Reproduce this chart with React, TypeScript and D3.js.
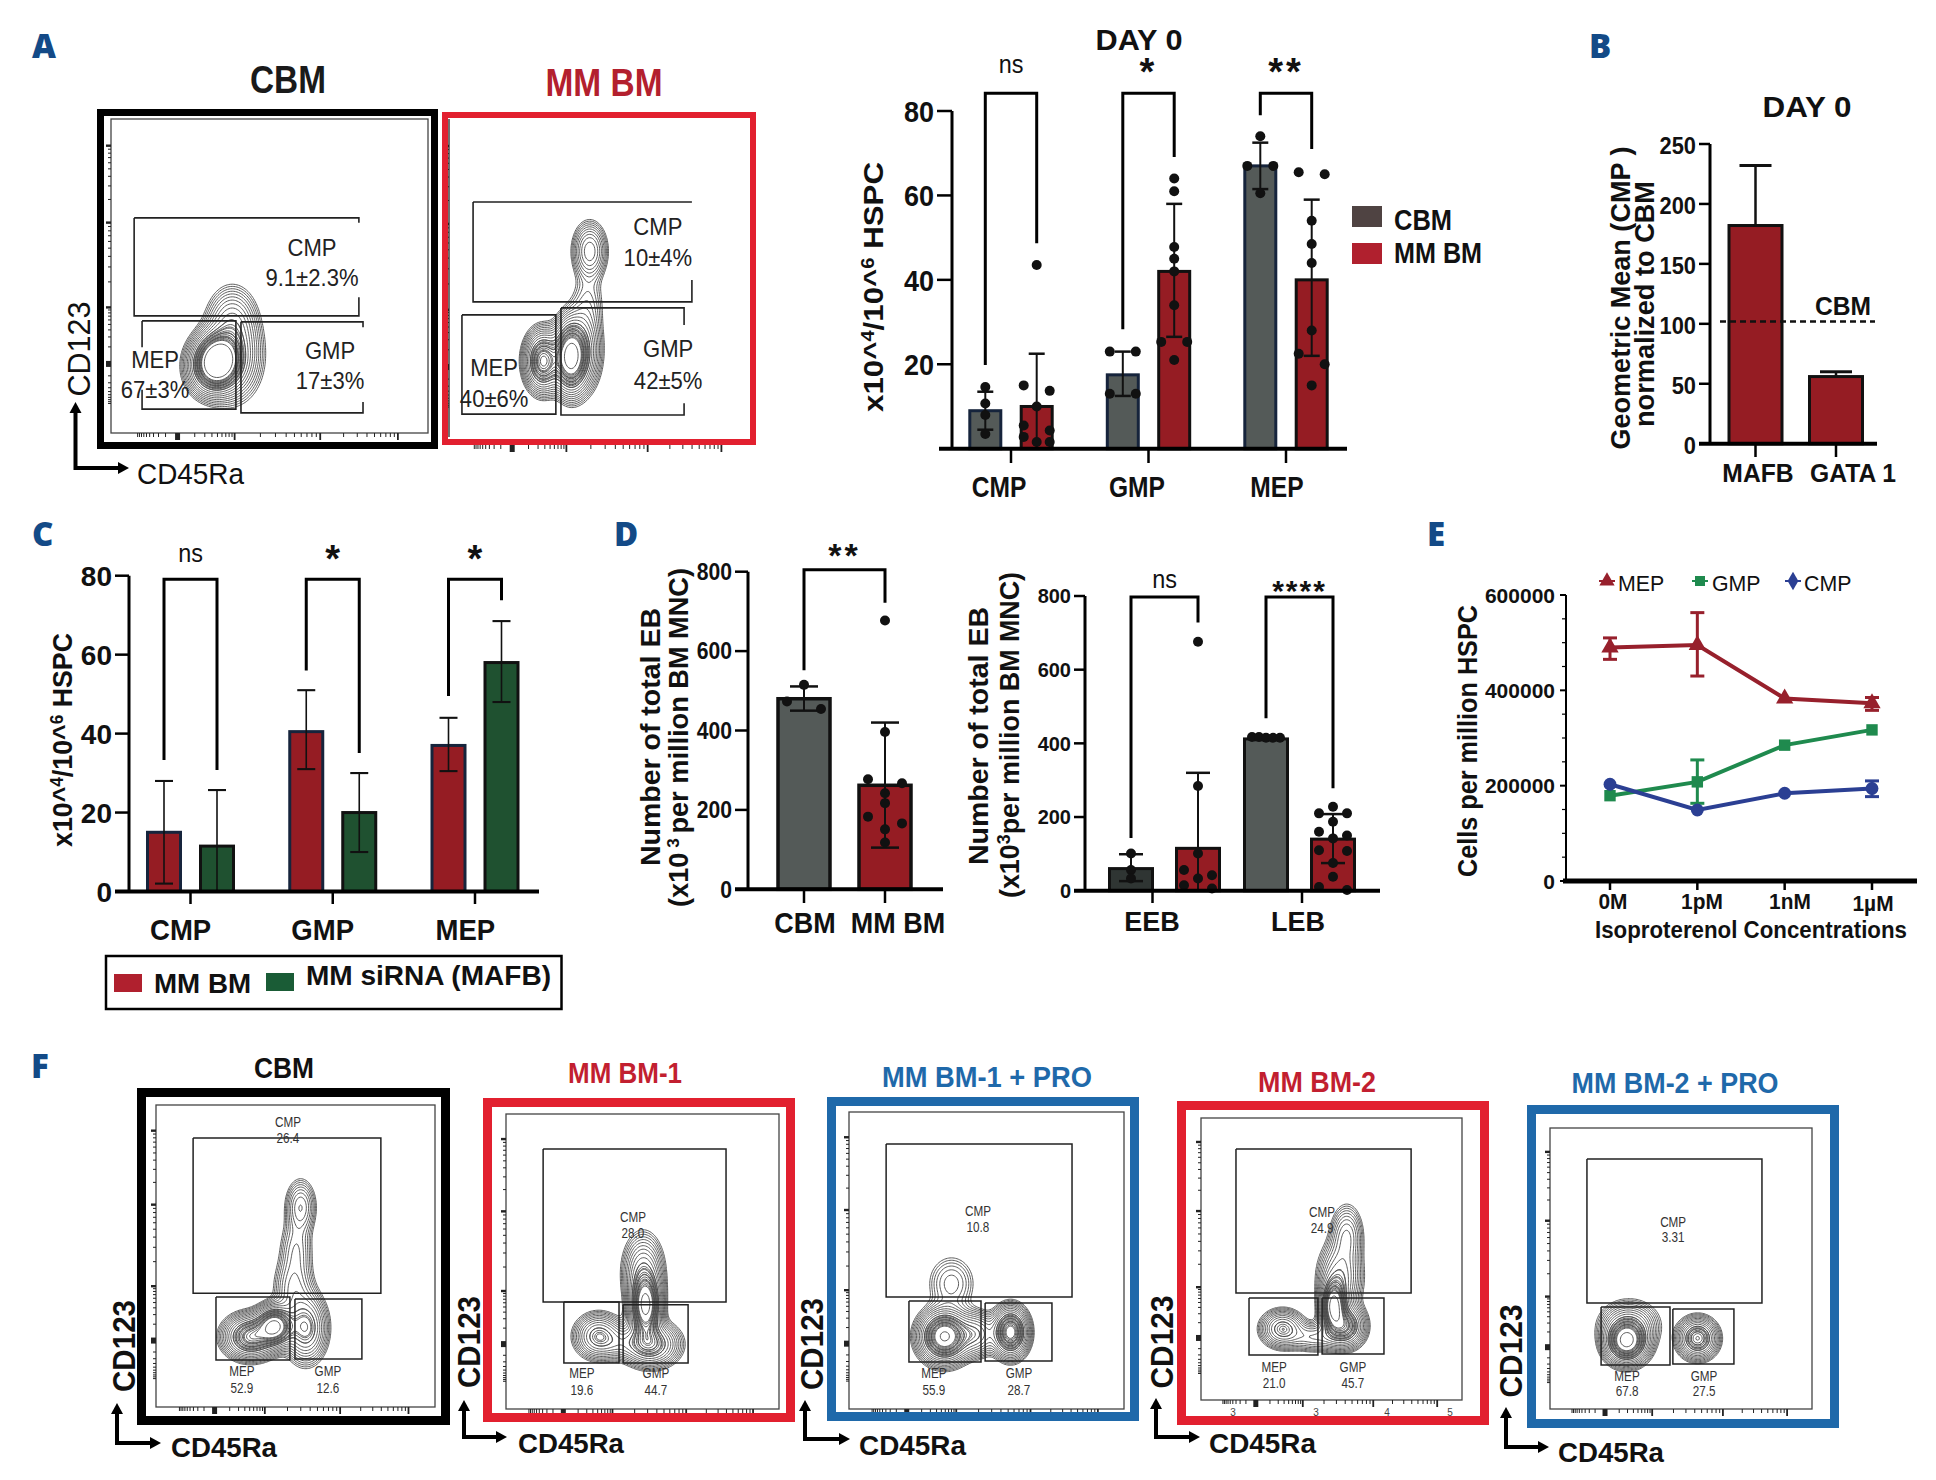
import * as d3 from 'd3';

const FONT = '"Liberation Sans", Arial, sans-serif';
const GRAY = '#545a58';
const DARK = '#2f3533';
const RED = '#951c23';
const GREEN = '#1f5130';
const EDGE = '#16243c';
const BOX_RED = '#e2202f';
const BOX_BLUE = '#1f69aa';
const TITLE_RED = '#c21f30';

// panel A bars
const popGroups = ['CMP', 'GMP', 'MEP'];
const aCbmMeans = [9, 17.5, 67];
const aCbmLow = [4.5, 12.5, 61.5];
const aCbmHigh = [13.5, 23, 72.5];
const aCbmPoints = [[14.6, 10.7, 8, 3.5], [23, 23, 13, 13], [74, 67, 67, 60.5]];
const aMmMeans = [10, 42, 40];
const aMmLow = [null, 26.5, 22];
const aMmHigh = [22.5, 58, 59];
const aMmPoints = [
  [43.5, 15, 13.7, 10, 5.5, 4.3, 2.8, 1.6, 1.6],
  [64, 61, 47.8, 45, 42, 34, 25.3, 25.3, 21],
  [65.5, 65, 54, 48.5, 44, 28, 22.5, 20, 15],
];
const aBrackets = [
  { label: 'ns', top: 84.2, legA: 19.8, legB: 48.7 },
  { label: '*', top: 84.2, legA: 28.3, legB: 69.1 },
  { label: '**', top: 84.2, legA: 79, legB: 71 },
];

// panel B
const bGroups = ['MAFB', 'GATA 1'];
const bMeans = [182, 56];
const bHigh = [232, 60];

// panel C
const cMmMeans = [15, 40.5, 37];
const cMmLow = [2, 31, 30.5];
const cMmHigh = [28, 51, 44];
const cSiMeans = [11.5, 20, 58];
const cSiLow = [null, 10, 48];
const cSiHigh = [25.7, 30, 68.5];
const cBrackets = [
  { label: 'ns', top: 79.1, legA: 33.3, legB: 30.8 },
  { label: '*', top: 79.1, legA: 56, legB: 35.1 },
  { label: '*', top: 79.1, legA: 49.5, legB: 73.8 },
];

// panel D, totals
const d1Groups = ['CBM', 'MM BM'];
const d1Means = [480, 262];
const d1Low = [450, 105];
const d1High = [511, 420];
const d1Points = [[515, 473, 454], [677, 396, 277, 267, 242, 217, 183, 166, 151, 118]];
const d1Brackets = [{ label: '**', top: 805, legA: 552, legB: 722 }];

// panel D, EEB and LEB
const d2Groups = ['EEB', 'LEB'];
const d2CbmMeans = [60, 412];
const d2CbmLow = [26, 409];
const d2CbmHigh = [99, 416];
const d2CbmPoints = [[101, 56, 33], [417, 415, 415, 415, 417]];
const d2MmMeans = [115, 140];
const d2MmLow = [null, 75];
const d2MmHigh = [320, 208];
const d2MmPoints = [
  [676, 284, 101, 56, 42, 33, 15, 6],
  [228, 210, 210, 187, 160, 150, 142, 110, 108, 75, 38, 10, 2],
];
const d2Brackets = [
  { label: 'ns', top: 797, legA: 143, legB: 728 },
  { label: '****', top: 797, legA: 468, legB: 278 },
];

// panel E
const isoDoses = ['0M', '1pM', '1nM', '1µM'];
const mepCells = [490000, 495000, 383000, 373000];
const mepLow = [465000, 430000, null, 358000];
const mepHigh = [510000, 563000, null, 385000];
const gmpCells = [179000, 208000, 285000, 317000];
const gmpLow = [null, 163000, null, null];
const gmpHigh = [null, 254000, null, null];
const cmpCells = [203000, 149000, 184000, 194000];
const cmpLow = [null, null, null, 177000];
const cmpHigh = [null, null, null, 210000];

// flow plots, everything on a 0-100 channel scale
const a1Gates = [
  { name: 'CMP', stat: '9.1±2.3%', box: [7.3, 78.2, 37.3, 68.5], lx: 63.4, ly: [56.4, 46.8], gapSide: 'right', gap: [0.05, 0.81] },
  { name: 'MEP', stat: '67±3%', box: [9.8, 39.4, 7.6, 35.7], lx: 13.9, ly: [20.7, 11.1], gapSide: 'left', gap: [0.3, 0.78] },
  { name: 'GMP', stat: '17±3%', box: [41, 79.5, 6.4, 35.4], lx: 69.1, ly: [23.6, 14], gapSide: 'right', gap: [0.06, 0.88] },
];
const a1Blobs = [[34, 23, 3.6, 4.5, 1], [31, 21, 4, 5, 0.55], [38, 24, 5, 7.5, 0.3], [38, 35, 4.2, 6.2, 0.22]];
const a2Gates = [
  { name: 'CMP', stat: '10±4%', box: [8, 80.7, 42.5, 73.9], lx: 69.4, ly: [63.5, 53.8], gapSide: 'right', gap: [0, 0.78] },
  { name: 'MEP', stat: '40±6%', box: [4.3, 35.5, 7.2, 38.4], lx: 15, ly: [19.2, 9.4] },
  { name: 'GMP', stat: '42±5%', box: [37.2, 78.1, 6.9, 40.6], lx: 72.8, ly: [25.2, 15.1], gapSide: 'right', gap: [0.16, 0.89] },
];
const a2Blobs = [[46.5, 58.2, 3, 4.8, 0.3], [46, 42, 3.2, 6, 0.08], [40, 25, 3, 6, 1], [31, 23.6, 3.2, 5, 0.75], [44, 27, 3.5, 7, 0.3]];
const f1Gates = [
  { name: 'CMP', stat: '26.4', box: [13.3, 80.6, 37.7, 89.1], lx: 47.3, ly: [92.7, 87.4] },
  { name: 'MEP', stat: '52.9', box: [21.5, 48, 15.6, 36.4], lx: 30.8, ly: [10.3, 4.6] },
  { name: 'GMP', stat: '12.6', box: [49.8, 73.8, 15.9, 35.8], lx: 61.6, ly: [10.3, 4.6] },
];
const f1Blobs = [[51.6, 66, 3, 5, 0.2], [50, 52, 3.4, 6, 0.12], [49, 39, 4, 6, 0.16], [42.3, 26.5, 3.6, 3.5, 1], [33.7, 23, 5, 3.8, 0.7], [53.4, 26, 4, 6, 0.45]];
const f2Gates = [
  { name: 'CMP', stat: '28.0', box: [13.6, 80.6, 36.3, 88.1], lx: 46.5, ly: [63.4, 58] },
  { name: 'MEP', stat: '19.6', box: [21.2, 41.4, 15.6, 36.3], lx: 27.8, ly: [10.5, 4.7] },
  { name: 'GMP', stat: '44.7', box: [42.9, 66.7, 15.6, 35.3], lx: 54.9, ly: [10.5, 4.7] },
];
const f2Blobs = [[50.9, 34.6, 3, 6, 1], [50, 46, 4, 7, 0.3], [33.7, 24.4, 4.6, 4, 0.4], [52.7, 21.7, 5.5, 4, 0.5], [42, 22, 5, 3, 0.12]];
const f3Gates = [
  { name: 'CMP', stat: '10.8', box: [13.5, 81.1, 37.7, 89.2], lx: 46.9, ly: [65, 59.6] },
  { name: 'MEP', stat: '55.9', box: [21.8, 48, 15.8, 36.4], lx: 30.9, ly: [10.4, 4.7] },
  { name: 'GMP', stat: '28.7', box: [49.5, 73.8, 16.2, 35.7], lx: 61.8, ly: [10.4, 4.7] },
];
const f3Blobs = [[34.5, 24.2, 4.8, 4.6, 1], [37, 42, 5, 5.5, 0.12], [58.5, 25.6, 3.4, 4.4, 0.85], [46, 25, 4, 4, 0.3]];
const f4Gates = [
  { name: 'CMP', stat: '24.9', box: [13.4, 80.5, 37.9, 89], lx: 46.4, ly: [64.9, 59.2] },
  { name: 'MEP', stat: '21.0', box: [18.4, 44.8, 16, 36.2], lx: 28, ly: [9.9, 4.3] },
  { name: 'GMP', stat: '45.7', box: [46.4, 70.1, 16.3, 36.2], lx: 58.2, ly: [9.9, 4.3] },
];
const f4Blobs = [[55.6, 58, 3.4, 6, 0.2], [53, 43, 4.5, 7, 0.3], [50.6, 33, 2.6, 5, 1], [55, 26, 4, 4, 0.6], [31, 25, 4.4, 3.5, 0.4], [43.7, 22, 6, 2.8, 0.2]];
const f5Gates = [
  { name: 'CMP', stat: '3.31', box: [14.1, 80.9, 37.7, 89], lx: 47, ly: [64.8, 59.4] },
  { name: 'MEP', stat: '67.8', box: [19.5, 45.8, 15.7, 36.3], lx: 29.4, ly: [10, 4.6] },
  { name: 'GMP', stat: '27.5', box: [46.9, 70.2, 16, 35.6], lx: 58.8, ly: [10, 4.6] },
];
const f5Blobs = [[29, 23.8, 4.4, 4.2, 1], [30, 30, 6, 4.5, 0.25], [56.1, 24.9, 4, 3.8, 0.6]];

// outer shells plus a tight band that gives the dark core of a contour plot
const contourLevels = [
  ...d3.range(16).map(i => 0.035 * Math.pow(0.95 / 0.035, i / 15)),
  ...d3.range(0.32, 0.76, 0.045),
].sort(d3.ascending);
const GRID = 2;
const decadeTicks = d3.scaleLog().domain([1, 1000]).ticks();
const biex = d3.scaleLinear().domain([0, 1, 2, 3]).range([21, 39, 66, 90.5]);

function Txt({ x, y, text, size = 24, weight = 'normal', fill = '#111', anchor = 'middle', len, rot = 0, sx = 1, family = FONT, children, spacing }: any) {
  return (
    <text
      transform={`translate(${x},${y}) rotate(${rot}) scale(${sx},1)`}
      fontFamily={family}
      fontSize={size}
      fontWeight={weight}
      fill={fill}
      textAnchor={anchor}
      textLength={len}
      lengthAdjust={len ? 'spacingAndGlyphs' : undefined}
      letterSpacing={spacing}
    >
      {text}
      {children}
    </text>
  );
}

function spreadPoints(values: number[], y: any, gapPx: number, spread: number) {
  const sorted = [...values].sort(d3.descending);
  const out: { v: number; dx: number }[] = [];
  let cluster: number[] = [];
  const flush = () => {
    const n = cluster.length;
    cluster.forEach((v, i) => out.push({ v, dx: n === 1 ? 0 : -spread + (2 * spread * i) / (n - 1) }));
    cluster = [];
  };
  sorted.forEach(v => {
    if (cluster.length && y(v) - y(cluster[0]) > gapPx) flush();
    cluster.push(v);
  });
  flush();
  return out;
}

function BarPanel(p: any) {
  const y = d3.scaleLinear().domain(p.yDomain).range(p.yRange);
  const x0 = d3.scalePoint<string>().domain(p.groups).range(p.xRange);
  const x1 = d3.scalePoint<string>().domain(p.series.map((s: any) => s.name)).range([-p.offset, p.offset]);
  const tickX = d3.scalePoint<string>().domain(p.groups).range(p.tickRange || p.xRange);
  const base = y(0);
  const two = p.series.length > 1;
  return (
    <g>
      {p.series.map((s: any) =>
        p.groups.map((g: string, i: number) => {
          const cx = (x0(g) as number) + (x1(s.name) as number);
          const fill = Array.isArray(s.fill) ? s.fill[i] : s.fill;
          const pts = s.points ? spreadPoints(s.points[i], y, p.dotGap, p.dotSpread) : [];
          const errEnd = p.upperOnly ? y(s.values[i]) : s.low[i] === null ? base : y(s.low[i]);
          return (
            <g key={s.name + g}>
              <rect x={cx - p.barW / 2} y={y(s.values[i])} width={p.barW} height={base - y(s.values[i])} fill={fill} stroke={s.edge} strokeWidth={p.barEdge} />
              <line x1={cx} x2={cx} y1={y(s.high[i])} y2={errEnd} stroke="#111" strokeWidth={p.errW} />
              <line x1={cx - p.capW / 2} x2={cx + p.capW / 2} y1={y(s.high[i])} y2={y(s.high[i])} stroke="#111" strokeWidth={p.errW + 0.5} />
              {s.low[i] !== null && <line x1={cx - p.capW / 2} x2={cx + p.capW / 2} y1={y(s.low[i])} y2={y(s.low[i])} stroke="#111" strokeWidth={p.errW + 0.5} />}
              {pts.map((d, k) => (
                <circle key={k} cx={cx + d.dx} cy={y(d.v)} r={p.dotR} fill="#111" />
              ))}
            </g>
          );
        })
      )}
      {p.refLine && (
        <line x1={p.refLine.x0} x2={p.refLine.x1} y1={y(p.refLine.value)} y2={y(p.refLine.value)} stroke="#111" strokeWidth={2.5} strokeDasharray="6 4" />
      )}
      {/* axes */}
      <line x1={p.axisX} x2={p.axisX} y1={y.range()[1]} y2={base} stroke="#000" strokeWidth={3} />
      <line x1={p.xAxis[0]} x2={p.xAxis[1]} y1={base} y2={base} stroke="#000" strokeWidth={4} />
      {p.yTicks.map((t: number) => (
        <g key={t}>
          <line x1={p.tickStart} x2={p.axisX} y1={y(t)} y2={y(t)} stroke="#000" strokeWidth={2.5} />
          <Txt x={p.tickStart - 3} y={y(t) + p.tickFont * 0.36 + (p.tickDy || 0)} text={t} size={p.tickFont} weight="bold" anchor="end" sx={p.tickSx} />
        </g>
      ))}
      {p.groups.map((g: string, i: number) => (
        <g key={g}>
          <line x1={tickX(g)} x2={tickX(g)} y1={base} y2={p.xTickEnd} stroke="#000" strokeWidth={2.5} />
          <Txt x={p.labelX[i]} y={p.labelY} text={g} size={p.labelFont} weight="bold" sx={p.labelSx} />
        </g>
      ))}
      {(p.brackets || []).map((b: any, i: number) => {
        const g0 = two ? p.groups[i] : p.groups[0];
        const g1 = two ? p.groups[i] : p.groups[1];
        const xa = (x0(g0) as number) + (two ? (x1(p.series[0].name) as number) : 0);
        const xb = (x0(g1) as number) + (two ? (x1(p.series[1].name) as number) : 0);
        const path = d3.path();
        path.moveTo(xa, y(b.legA));
        path.lineTo(xa, y(b.top));
        path.lineTo(xb, y(b.top));
        path.lineTo(xb, y(b.legB));
        const ns = b.label === 'ns';
        return (
          <g key={i}>
            <path d={path.toString()} fill="none" stroke="#000" strokeWidth={3} />
            <Txt
              x={(xa + xb) / 2}
              y={ns ? y(b.top) - p.nsDy : y(b.top) - p.starDy + p.starFont * 0.58}
              text={b.label}
              size={ns ? p.nsFont : p.starFont}
              weight={ns ? 'normal' : 'bold'}
              sx={ns ? 0.9 : 1}
              spacing={ns ? undefined : p.starSpacing}
            />
          </g>
        );
      })}
    </g>
  );
}

function gatePath(g: any, xs: any, ys: any) {
  const [a, b, c, d] = g.box;
  const left = xs(a);
  const right = xs(b);
  const top = ys(d);
  const bottom = ys(c);
  const h = bottom - top;
  const path = d3.path();
  path.moveTo(left, top);
  path.lineTo(right, top);
  if (g.gapSide === 'right') {
    if (g.gap[0] > 0) path.lineTo(right, top + g.gap[0] * h);
    path.moveTo(right, top + g.gap[1] * h);
  }
  path.lineTo(right, bottom);
  path.lineTo(left, bottom);
  if (g.gapSide === 'left') {
    path.lineTo(left, top + g.gap[1] * h);
    path.moveTo(left, top + g.gap[0] * h);
    path.lineTo(left, top);
  } else {
    path.lineTo(left, top);
  }
  return path.toString();
}

function FlowPlot(p: any) {
  const [fx0, fx1, fy0, fy1] = p.frame;
  const xs = d3.scaleLinear().domain([0, 100]).range([fx0, fx1]);
  const ys = d3.scaleLinear().domain([0, 100]).range([fy1, fy0]);

  const n = 100 * GRID;
  const field = new Float64Array(n * n);
  for (let j = 0; j < n; j++) {
    for (let i = 0; i < n; i++) {
      let sum = 0;
      for (const [cx, cy, sx, sy, amp] of p.blobs) {
        const dx = (i / GRID - cx) / sx;
        const dy = (j / GRID - cy) / sy;
        sum += amp * Math.exp(-0.5 * (dx * dx + dy * dy));
      }
      field[j * n + i] = sum;
    }
  }
  const contours = d3.contours().size([n, n]).thresholds(contourLevels)(field as any);
  const geo = d3.geoPath(
    d3.geoTransform({
      point(px: number, py: number) {
        (this as any).stream.point(xs(px / GRID), ys(py / GRID));
      },
    })
  );

  const tickUnits = decadeTicks.map(t => ({ u: biex(Math.log10(t)), major: Number.isInteger(Math.log10(t)) }));
  const mirror = decadeTicks.filter(t => t > 1 && t <= 10).map(t => ({ u: 21 - (biex(Math.log10(t)) - 21) * 0.7, major: false }));
  const ticks = [...tickUnits, ...mirror];
  const tickDrop = p.xTickDrop || 0;
  return (
    <g>
      {p.frameLeftOnly ? (
        <line x1={fx0} x2={fx0} y1={fy0} y2={fy1} stroke="#333" strokeWidth={1.4} />
      ) : (
        <rect x={fx0} y={fy0} width={fx1 - fx0} height={fy1 - fy0} fill="none" stroke="#444" strokeWidth={1.3} />
      )}
      {contours.map((c, i) => (
        <path key={i} d={geo(c as any) || ''} fill="none" stroke="#4a4a4a" strokeWidth={0.9} />
      ))}
      {ticks.map((t, i) => (
        <g key={i} stroke="#222">
          <line x1={xs(t.u)} x2={xs(t.u)} y1={fy1 + tickDrop} y2={fy1 + tickDrop + (t.major ? 7 : 4)} strokeWidth={t.u === 21 ? 5 : t.major ? 1.8 : 1} />
          <line x1={fx0 - (t.major ? 5 : 3)} x2={fx0} y1={ys(t.u + 1)} y2={ys(t.u + 1)} strokeWidth={t.u === 21 ? 6 : t.major ? 2.4 : 1} />
        </g>
      ))}
      {p.gates.map((g: any) => (
        <g key={g.name}>
          <path d={gatePath(g, xs, ys)} fill="none" stroke="#222" strokeWidth={p.gateW} />
          <Txt x={xs(g.lx)} y={ys(g.ly[0])} text={g.name} size={p.statFont} sx={p.statSx} fill={p.statFill} />
          <Txt x={xs(g.lx)} y={ys(g.ly[1])} text={g.stat} size={p.statFont} sx={p.statSx} fill={p.statFill} />
        </g>
      ))}
      {p.box && <rect x={p.box[0]} y={p.box[1]} width={p.box[2] - p.box[0]} height={p.box[3] - p.box[1]} fill="none" stroke={p.boxColor} strokeWidth={p.boxW} />}
    </g>
  );
}

function Arrows({ x, top, corner, right }: any) {
  const sw = 4;
  return (
    <g>
      <path d={`M${x},${top + 10} V${corner} H${right - 10}`} fill="none" stroke="#000" strokeWidth={sw} />
      <path d={`M${x - 6},${top + 11} L${x},${top} L${x + 6},${top + 11} Z`} fill="#000" />
      <path d={`M${right - 11},${corner - 6} L${right},${corner} L${right - 11},${corner + 6} Z`} fill="#000" />
    </g>
  );
}

function FlowLabels({ cdX, cdY, cdLen, cdSize, arrow, raX, raY, raLen, raSize, weight }: any) {
  return (
    <g>
      <Txt x={cdX} y={cdY} text="CD123" size={cdSize} weight={weight} rot={-90} len={cdLen} />
      <Arrows {...arrow} />
      <Txt x={raX} y={raY} text="CD45Ra" size={raSize} weight={weight} anchor="start" len={raLen} />
    </g>
  );
}

function IsoPanel() {
  const x = d3.scalePoint<string>().domain(isoDoses).range([1610, 1872]);
  const y = d3.scaleLinear().domain([0, 600000]).range([881, 595]);
  const line = d3.line<number>().x((_, i) => x(isoDoses[i]) as number).y(d => y(d));
  const groups = [
    { name: 'MEP', cells: mepCells, low: mepLow, high: mepHigh, color: '#97202c', symbol: d3.symbolTriangle, legend: d3.symbolTriangle, legendX: 1607, textX: 1618 },
    { name: 'GMP', cells: gmpCells, low: gmpLow, high: gmpHigh, color: '#1f8a4e', symbol: d3.symbolSquare, legend: d3.symbolSquare, legendX: 1700, textX: 1712 },
    { name: 'CMP', cells: cmpCells, low: cmpLow, high: cmpHigh, color: '#2b3f93', symbol: d3.symbolCircle, legend: d3.symbolDiamond, legendX: 1793, textX: 1804 },
  ];
  const labelX = [1613, 1702, 1790, 1873];
  return (
    <g>
      <line x1={1566} x2={1566} y1={595} y2={881} stroke="#000" strokeWidth={2} />
      <line x1={1563} x2={1917} y1={881} y2={881} stroke="#000" strokeWidth={5} />
      {y.ticks(12).map(t => (
        <line key={t} x1={t % 200000 === 0 ? 1560 : 1562} x2={1566} y1={y(t)} y2={y(t)} stroke="#000" strokeWidth={t % 200000 === 0 ? 2 : 1.2} />
      ))}
      {[0, 200000, 400000, 600000].map(t => (
        <Txt key={t} x={1555} y={y(t) + 7.5} text={t} size={21} weight="bold" anchor="end" />
      ))}
      {isoDoses.map((d, i) => (
        <g key={d}>
          <line x1={x(d)} x2={x(d)} y1={881} y2={890} stroke="#000" strokeWidth={2.5} />
          <Txt x={labelX[i]} y={i === 3 ? 911 : 909} text={d} size={22} weight="bold" sx={0.95} />
        </g>
      ))}
      {groups.map(g => (
        <g key={g.name}>
          <path d={line(g.cells) || ''} fill="none" stroke={g.color} strokeWidth={4} />
          {g.cells.map((c, i) => (
            <g key={i} stroke={g.color} strokeWidth={3}>
              {g.high[i] !== null && (
                <g>
                  <line x1={x(isoDoses[i])} x2={x(isoDoses[i])} y1={y(g.high[i] as number)} y2={y(g.low[i] as number)} />
                  <line x1={(x(isoDoses[i]) as number) - 7} x2={(x(isoDoses[i]) as number) + 7} y1={y(g.high[i] as number)} y2={y(g.high[i] as number)} />
                  <line x1={(x(isoDoses[i]) as number) - 7} x2={(x(isoDoses[i]) as number) + 7} y1={y(g.low[i] as number)} y2={y(g.low[i] as number)} />
                </g>
              )}
              <path transform={`translate(${x(isoDoses[i])},${y(c)})`} d={d3.symbol().type(g.symbol).size(130)() || ''} fill={g.color} stroke="none" />
            </g>
          ))}
          <path transform={`translate(${g.legendX},581)`} d={d3.symbol().type(g.legend).size(100)() || ''} fill={g.color} />
          <line x1={g.legendX - 8} x2={g.legendX + 8} y1={581} y2={581} stroke={g.color} strokeWidth={2} />
          <Txt x={g.textX} y={591} text={g.name} size={22} anchor="start" sx={0.97} />
        </g>
      ))}
      <Txt x={1477} y={741} text="Cells per million HSPC" size={27} weight="bold" rot={-90} len={272} />
      <Txt x={1751} y={938} text="Isoproterenol Concentrations" size={23} weight="bold" len={312} />
    </g>
  );
}

export default function App() {
  const aSeries = [
    { name: 'CBM', values: aCbmMeans, low: aCbmLow, high: aCbmHigh, points: aCbmPoints, fill: GRAY, edge: EDGE },
    { name: 'MM BM', values: aMmMeans, low: aMmLow, high: aMmHigh, points: aMmPoints, fill: RED, edge: '#111' },
  ];
  const cSeries = [
    { name: 'MM BM', values: cMmMeans, low: cMmLow, high: cMmHigh, fill: RED, edge: EDGE },
    { name: 'MM siRNA (MAFB)', values: cSiMeans, low: cSiLow, high: cSiHigh, fill: GREEN, edge: '#111' },
  ];
  const d1Series = [{ name: 'total', values: d1Means, low: d1Low, high: d1High, points: d1Points, fill: [GRAY, RED], edge: '#111' }];
  const d2Series = [
    { name: 'CBM', values: d2CbmMeans, low: d2CbmLow, high: d2CbmHigh, points: d2CbmPoints, fill: [DARK, GRAY], edge: '#111' },
    { name: 'MM BM', values: d2MmMeans, low: d2MmLow, high: d2MmHigh, points: d2MmPoints, fill: RED, edge: '#111' },
  ];
  const bSeries = [{ name: 'gene', values: bMeans, low: [null, null], high: bHigh, fill: RED, edge: '#111' }];

  return (
    <svg width={1936} height={1480} viewBox="0 0 1936 1480" style={{ position: 'absolute', left: 0, top: 0, background: '#fff' }}>
      {/* panel letters */}
      {[['A', 32, 58], ['B', 1589, 58], ['C', 32, 546], ['D', 614, 546], ['E', 1427, 546], ['F', 31, 1078]].map(([t, x, y]) => (
        <Txt key={t as string} x={x} y={y} text={t} size={33} weight={800} fill="#134a87" anchor="start" family='"Open Sans", sans-serif' />
      ))}

      {/* A: flow plots */}
      <Txt x={288} y={93} text="CBM" size={39} weight="bold" len={76} fill="#1a1a1a" />
      <Txt x={604} y={96} text="MM BM" size={39} weight="bold" len={117} fill="#b3202e" />
      <FlowPlot frame={[111, 428, 119, 433]} gates={a1Gates} blobs={a1Blobs} statFont={24} statSx={0.92} statFill="#222" gateW={1.6} box={[100.5, 112.5, 434.5, 445.5]} boxColor="#000" boxW={7} />
      <FlowPlot frame={[449, 750, 119, 437]} gates={a2Gates} blobs={a2Blobs} statFont={24} statSx={0.92} statFill="#222" gateW={1.6} frameLeftOnly xTickDrop={8} box={[445, 115, 753, 442]} boxColor={BOX_RED} boxW={6} />
      <FlowLabels cdX={90} cdY={349} cdLen={95} cdSize={32} weight="normal" arrow={{ x: 75.5, top: 402, corner: 468, right: 129 }} raX={137} raY={484} raLen={107} raSize={30} />

      {/* A: bars */}
      <Txt x={1139} y={50} text="DAY 0" size={30} weight="bold" len={87} />
      <BarPanel
        groups={popGroups} series={aSeries} xRange={[1011, 1286]} offset={25.7} barW={31}
        yDomain={[0, 80]} yRange={[448.7, 111]} yTicks={[20, 40, 60, 80]} axisX={952} xAxis={[939, 1347]}
        tickStart={937} tickFont={30} tickSx={0.9} xTickEnd={463} labelX={[999, 1137, 1277]} labelY={497} labelFont={30} labelSx={0.82}
        barEdge={3} errW={2} capW={16} dotR={5} dotGap={11} dotSpread={13}
        brackets={aBrackets} nsDy={20} nsFont={26} starDy={30} starFont={38} starSpacing={3}
      />
      <rect x={1352} y={206} width={30} height={21} fill="#4f4342" />
      <rect x={1352} y={243} width={30} height={21} fill="#b0202e" />
      <Txt x={1394} y={230} text="CBM" size={29} weight="bold" anchor="start" len={58} />
      <Txt x={1394} y={263} text="MM BM" size={29} weight="bold" anchor="start" len={88} />
      <Txt x={883} y={287} size={28} weight="bold" rot={-90} len={250}>
        x10^<tspan dy={-9} fontSize={18}>4</tspan><tspan dy={9}>/10^</tspan><tspan dy={-9} fontSize={18}>6</tspan><tspan dy={9}> HSPC</tspan>
      </Txt>

      {/* B */}
      <Txt x={1807} y={117} text="DAY 0" size={30} weight="bold" len={89} />
      <BarPanel
        groups={bGroups} series={bSeries} xRange={[1755.5, 1836]} offset={0} barW={53} upperOnly
        yDomain={[0, 250]} yRange={[443.7, 144]} yTicks={[0, 50, 100, 150, 200, 250]} axisX={1710} xAxis={[1699, 1877]}
        tickStart={1699} tickFont={23} tickSx={0.95} tickDy={2} xTickEnd={457} labelX={[1758, 1853]} labelY={482} labelFont={26} labelSx={0.95}
        barEdge={3} errW={2.5} capW={32} dotR={0} dotGap={0} dotSpread={0}
        refLine={{ value: 102, x0: 1720, x1: 1875 }}
      />
      <Txt x={1843} y={315} text="CBM" size={25} weight="bold" len={56} />
      <Txt x={1630} y={298} text="Geometric Mean (CMP )" size={27} weight="bold" rot={-90} len={303} />
      <Txt x={1654} y={304} text="normalized to CBM" size={27} weight="bold" rot={-90} len={246} />

      {/* C */}
      <BarPanel
        groups={popGroups} series={cSeries} xRange={[190.5, 475]} offset={26.5} barW={33}
        yDomain={[0, 80]} yRange={[891.5, 575.7]} yTicks={[0, 20, 40, 60, 80]} axisX={129} xAxis={[115, 539]}
        tickStart={115} tickFont={28} tickSx={1} xTickEnd={904} labelX={[180.6, 322.7, 465.4]} labelY={940} labelFont={29} labelSx={0.95}
        barEdge={3} errW={1.6} capW={18} dotR={0} dotGap={0} dotSpread={0}
        brackets={cBrackets} nsDy={17} nsFont={26} starDy={29} starFont={38}
      />
      <Txt x={72} y={740} size={28} weight="bold" rot={-90} len={214}>
        x10^<tspan dy={-9} fontSize={18}>4</tspan><tspan dy={9}>/10^</tspan><tspan dy={-9} fontSize={18}>6</tspan><tspan dy={9}> HSPC</tspan>
      </Txt>
      <rect x={106} y={956} width={455.5} height={53} fill="none" stroke="#000" strokeWidth={2.5} />
      <rect x={114} y={974} width={28} height={18} fill="#b0202e" />
      <rect x={266} y={973} width={28} height={18} fill="#1a5c36" />
      <Txt x={154} y={993} text="MM BM" size={28} weight="bold" anchor="start" len={97} />
      <Txt x={306} y={985} text="MM siRNA (MAFB)" size={28} weight="bold" anchor="start" len={245} />

      {/* D */}
      <BarPanel
        groups={d1Groups} series={d1Series} xRange={[804, 885]} offset={0} barW={52}
        yDomain={[0, 800]} yRange={[889.3, 571.7]} yTicks={[0, 200, 400, 600, 800]} axisX={748} xAxis={[735, 943]}
        tickStart={735} tickFont={23} tickSx={0.92} xTickEnd={903} labelX={[805, 898]} labelY={933} labelFont={29} labelSx={0.93}
        barEdge={3.5} errW={2} capW={28} dotR={5} dotGap={8} dotSpread={17}
        brackets={d1Brackets} nsDy={17} nsFont={26} starDy={22} starFont={34} starSpacing={3}
      />
      <Txt x={660} y={737} text="Number of total EB" size={27} weight="bold" rot={-90} len={258} />
      <Txt x={688} y={737.5} size={27} weight="bold" rot={-90} len={339}>
        (x10<tspan dy={-9} fontSize={17}> 3 </tspan><tspan dy={9}>per million BM MNC)</tspan>
      </Txt>
      <BarPanel
        groups={d2Groups} series={d2Series} xRange={[1164.5, 1299.5]} tickRange={[1152.5, 1302]} offset={33.5} barW={43}
        yDomain={[0, 800]} yRange={[890.7, 596]} yTicks={[0, 200, 400, 600, 800]} axisX={1085} xAxis={[1074, 1380]}
        tickStart={1074} tickFont={20} tickSx={1} xTickEnd={903} labelX={[1152, 1298]} labelY={931} labelFont={27} labelSx={1}
        barEdge={3} errW={2} capW={24} dotR={5} dotGap={6} dotSpread={14}
        brackets={d2Brackets} nsDy={9} nsFont={26} starDy={14} starFont={30} starSpacing={2}
      />
      <Txt x={988} y={736} text="Number of total EB" size={27} weight="bold" rot={-90} len={258} />
      <Txt x={1019} y={735} size={27} weight="bold" rot={-90} len={326}>
        (x10<tspan dy={-9} fontSize={18}>3</tspan><tspan dy={9}>per million BM MNC)</tspan>
      </Txt>

      {/* E */}
      <IsoPanel />

      {/* F */}
      <Txt x={284} y={1078} text="CBM" size={29} weight="bold" len={60} />
      <FlowPlot frame={[156, 435, 1105, 1407]} gates={f1Gates} blobs={f1Blobs} statFont={15} statSx={0.78} statFill="#333" gateW={1.5} box={[141.5, 1092.5, 445.5, 1420.5]} boxColor="#000" boxW={9} />
      <FlowLabels cdX={135} cdY={1346} cdLen={92} cdSize={32} weight="bold" arrow={{ x: 117, top: 1403, corner: 1443, right: 161 }} raX={171} raY={1457} raLen={106} raSize={28} />

      <Txt x={625} y={1083} text="MM BM-1" size={29} weight="bold" len={114} fill={TITLE_RED} />
      <FlowPlot frame={[506, 779, 1114, 1409]} gates={f2Gates} blobs={f2Blobs} statFont={15} statSx={0.78} statFill="#333" gateW={1.5} box={[487.5, 1102.5, 790.5, 1417.5]} boxColor={BOX_RED} boxW={9} />
      <FlowLabels cdX={480} cdY={1342} cdLen={92} cdSize={32} weight="bold" arrow={{ x: 464, top: 1400, corner: 1437, right: 507 }} raX={518} raY={1453} raLen={106} raSize={28} />

      <Txt x={987} y={1087} text="MM BM-1 + PRO" size={29} weight="bold" len={210} fill={BOX_BLUE} />
      <FlowPlot frame={[849, 1124, 1112, 1409]} gates={f3Gates} blobs={f3Blobs} statFont={15} statSx={0.78} statFill="#333" gateW={1.5} box={[831.5, 1101.5, 1134.5, 1416.5]} boxColor={BOX_BLUE} boxW={9} />
      <FlowLabels cdX={823} cdY={1344} cdLen={92} cdSize={32} weight="bold" arrow={{ x: 805, top: 1400, corner: 1439, right: 850 }} raX={859} raY={1455} raLen={107} raSize={28} />

      <Txt x={1317} y={1092} text="MM BM-2" size={29} weight="bold" len={118} fill={TITLE_RED} />
      <FlowPlot frame={[1201, 1462, 1118, 1400]} gates={f4Gates} blobs={f4Blobs} statFont={15} statSx={0.78} statFill="#333" gateW={1.5} box={[1181.5, 1105.5, 1484.5, 1420.5]} boxColor={BOX_RED} boxW={9} />
      {[[1233, '3'], [1316, '3'], [1387, '4'], [1450, '5']].map(([x, t], i) => (
        <Txt key={i} x={x} y={1416} text={t} size={10} fill="#444" />
      ))}
      <FlowLabels cdX={1173} cdY={1342} cdLen={93} cdSize={32} weight="bold" arrow={{ x: 1156, top: 1398, corner: 1437, right: 1200 }} raX={1209} raY={1453} raLen={107} raSize={28} />

      <Txt x={1675} y={1093} text="MM BM-2 + PRO" size={29} weight="bold" len={207} fill={BOX_BLUE} />
      <FlowPlot frame={[1550, 1812, 1128, 1409]} gates={f5Gates} blobs={f5Blobs} statFont={15} statSx={0.78} statFill="#333" gateW={1.5} box={[1531.5, 1109.5, 1834.5, 1423.5]} boxColor={BOX_BLUE} boxW={9} />
      <FlowLabels cdX={1522} cdY={1351} cdLen={93} cdSize={32} weight="bold" arrow={{ x: 1506, top: 1407, corner: 1447, right: 1549 }} raX={1558} raY={1462} raLen={106} raSize={28} />
    </svg>
  );
}
